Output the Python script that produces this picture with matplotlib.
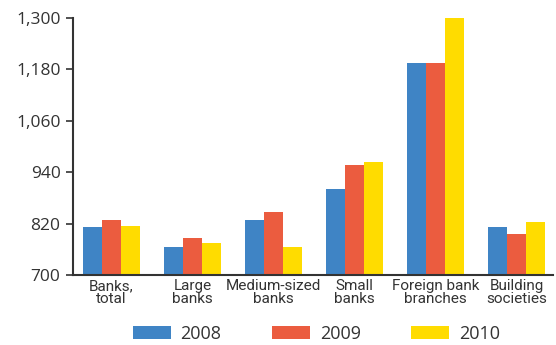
import matplotlib
matplotlib.use('Agg')
import matplotlib.pyplot as plt
import numpy as np

categories = ['Banks,\ntotal', 'Large\nbanks', 'Medium-sized\nbanks', 'Small\nbanks',
              'Foreign bank\nbranches', 'Building\nsocieties']
years = ['2008', '2009', '2010']
v2008 = [812, 765, 828, 901, 1195, 812]
v2009 = [828, 786, 847, 957, 1195, 796]
v2010 = [814, 775, 765, 964, 1300, 824]
yticks = [700, 820, 940, 1060, 1180, 1300]
colors = ['#3F84C5', '#EB5C3F', '#FFDC00']

plt.rcParams['font.family'] = ['Open Sans', 'DejaVu Sans']

fig = plt.figure(figsize=(5.56, 3.45), dpi=100)
ax = fig.add_axes([0.1313, 0.2029, 0.8633, 0.7449])

x = np.arange(len(categories))
w = 0.2346
for i, (vals, c, lab) in enumerate(zip([v2008, v2009, v2010], colors, years)):
    ax.bar(x + (i - 1) * w, np.array(vals) - 700, bottom=700, width=w, color=c,
           label=lab, linewidth=0)

ax.set_ylim(700, 1300)
ax.set_xlim(-0.475, 5.45)
ax.set_yticks(yticks)
ax.set_yticklabels([f'{t:,}' for t in yticks], fontsize=12.5, color='#333333')
ax.set_xticks(x)
ax.set_xticklabels(categories, fontsize=11, color='#333333', linespacing=0.9,
                   family=['Roboto', 'DejaVu Sans'])
ax.tick_params(axis='x', length=0, pad=3)
ax.tick_params(axis='y', length=5, width=1.2, color='#333333', pad=4, direction='out')
for s in ['top', 'right']:
    ax.spines[s].set_visible(False)
for s in ['left', 'bottom']:
    ax.spines[s].set_color('#333333')
    ax.spines[s].set_linewidth(1.5)

fig.legend(loc='center', bbox_to_anchor=(0.569, 0.033), ncol=3, frameon=False,
           fontsize=13, handlelength=2.1, handleheight=0.7, columnspacing=2.8,
           handletextpad=0.55, labelcolor='#333333')

fig.savefig('out.png', dpi=100)
